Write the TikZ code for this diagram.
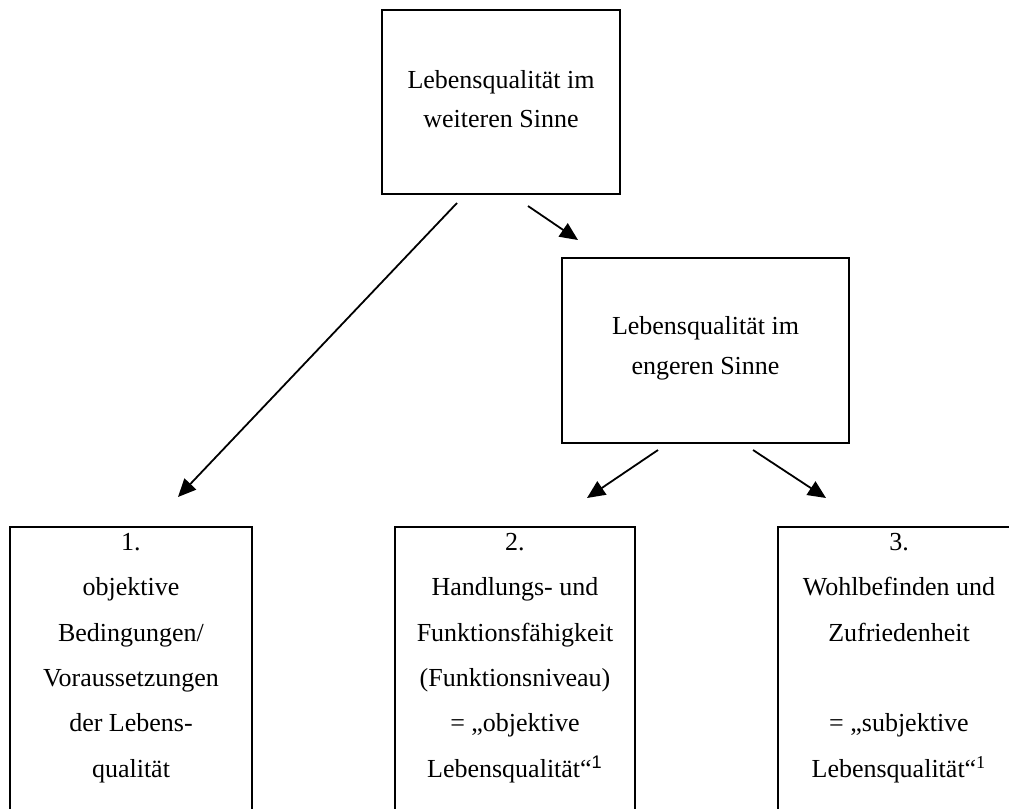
\documentclass[tikz,border=0pt]{standalone}
\usepackage{fontspec}
\setmainfont{Liberation Serif}
\setsansfont{Liberation Sans}
\usepackage{tikz}
\usetikzlibrary{arrows.meta}

\begin{document}
\begin{tikzpicture}[x=0.5pt,y=-0.5pt,>={Triangle[length=9pt,width=8pt]},
  box/.style={draw,line width=1.2pt,inner sep=0pt},
  upper/.style={align=center,font=\fontsize{13}{19.8}\selectfont},
  lower/.style={align=center,anchor=north,inner sep=0pt,font=\fontsize{13}{22.65}\selectfont},
  conn/.style={->,line width=0.9pt}]
  % Canvas (1009 x 809 px)
  \useasboundingbox (0,0) rectangle (1009,809);
  \fill[white] (0,0) rectangle (1009,809);
  \clip (0,0) rectangle (1009,809);

  % Upper boxes
  \node[box,minimum width=119pt,minimum height=92pt] (weit) at (501,102) {};
  \node[upper] (weitText) at (501,99) {Lebensqualität im\\weiteren Sinne};
  \node[box,minimum width=143.5pt,minimum height=92.5pt] (eng) at (705.5,350.5) {};
  \node[upper] (engText) at (705.5,348) {Lebensqualität im\\engeren Sinne};

  % Lower boxes, running off the bottom edge
  \def\ytop{526}
  \def\ytxt{533}
  \node[box,minimum width=121pt,minimum height=160pt,anchor=north] (objBox) at (131,\ytop) {};
  \node[box,minimum width=120pt,minimum height=160pt,anchor=north] (funkBox) at (515,\ytop) {};
  \node[box,minimum width=121pt,minimum height=160pt,anchor=north] (wohlBox) at (899,\ytop) {};

  \node[lower] (objText) at (131,\ytxt)
    {1.\\objektive\\Bedingungen/\\Voraussetzungen\\der Lebens-\\qualität};
  \node[lower] (funkText) at (515,\ytxt)
    {2.\\Handlungs- und\\Funktionsfähigkeit\\(Funktionsniveau)\\= „objektive\\Lebensqualität“\textsuperscript{\sffamily 1}};
  \node[lower] (wohlText) at (899,\ytxt)
    {3.\\Wohlbefinden und\\Zufriedenheit\\[22.65pt]= „subjektive\\Lebensqualität“\textsuperscript{1}};

  % Arrows (free ends)
  \coordinate (weitL) at (457,203);
  \coordinate (weitR) at (528,206);
  \coordinate (engL) at (658,450);
  \coordinate (engR) at (753,450);
  \coordinate (objTip) at (178,497);
  \coordinate (engTip) at (578,240);
  \coordinate (funkTip) at (587,498);
  \coordinate (wohlTip) at (826,498);

  \draw[conn] (weitL) -- (objTip);
  \draw[conn] (weitR) -- (engTip);
  \draw[conn] (engL) -- (funkTip);
  \draw[conn] (engR) -- (wohlTip);
\end{tikzpicture}
\end{document}
